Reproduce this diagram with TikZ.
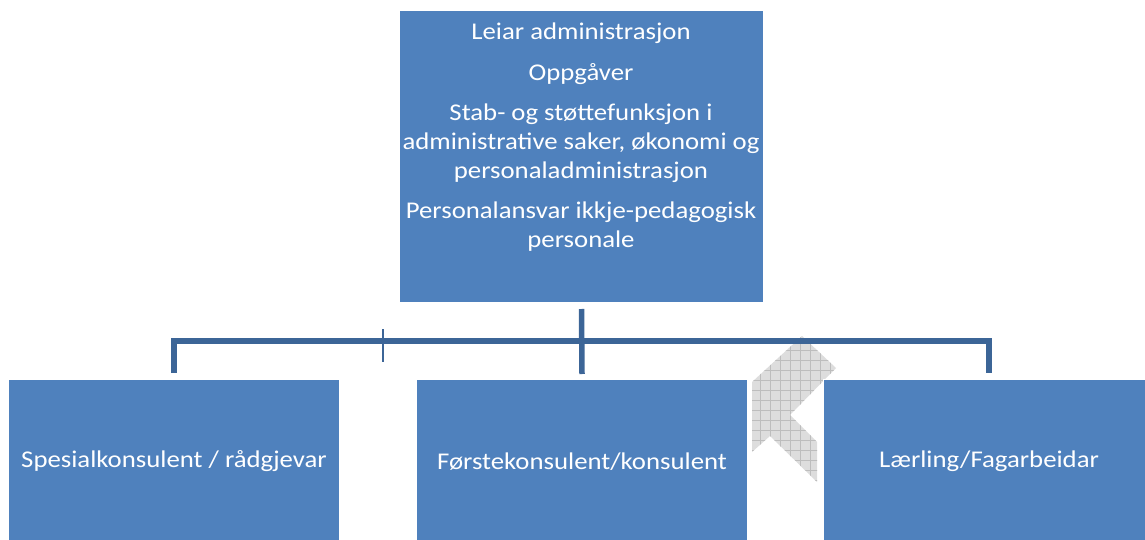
\documentclass[tikz,border=0pt]{standalone}
\usepackage{fontspec}
\setmainfont{Carlito}[FakeStretch=1.115]
\definecolor{boxblue}{HTML}{4F81BD}
\definecolor{connblue}{HTML}{3C6597}
\definecolor{hatchbg}{HTML}{DDDDDD}
\definecolor{hatchln}{HTML}{BDBDBD}
\tikzset{
  orgbox/.style={draw=white, line width=1pt, fill=boxblue, text=white, inner sep=0pt,
    font=\fontsize{24}{28.7}\selectfont, align=center},
  conn/.style={draw=connblue, line width=5.5pt},
  tickline/.style={draw=connblue, line width=1.3pt},
}
\begin{document}
\begin{tikzpicture}[x=1pt,y=1pt]
\useasboundingbox (0,0) rectangle (1145,-540);
\clip (0,0) rectangle (1145,-540);
% grey hatched shape
\begin{scope}
  \clip (802,-336) -- (836,-368) -- (790,-415) -- (817,-442) -- (817,-482)
        -- (770,-436) -- (752,-452) -- (752,-382) -- cycle;
  \fill[hatchbg] (740,-330) rectangle (850,-490);
  \draw[hatchln, line width=0.6pt, step=10pt] (740,-330) grid (850,-490);
\end{scope}
% boxes
\node[orgbox, minimum width=364pt, minimum height=292pt, anchor=north west] (T) at (399,-10) {};
\node[text=white, inner sep=0pt, align=center, anchor=north,
      font=\fontsize{24}{28.7}\selectfont] (Ttext) at (581,-22.5)
  {Leiar administrasjon\\[12pt]
   Oppgåver\\[12pt]
   Stab- og støttefunksjon i\\
   administrative saker, økonomi og\\
   personaladministrasjon\\[12pt]
   Personalansvar ikkje-pedagogisk\\
   personale};
\node[orgbox, minimum width=331pt, minimum height=164pt, anchor=north west] (L) at (8,-379) {Spesialkonsulent / rådgjevar};
\node[orgbox, minimum width=331pt, minimum height=164pt, anchor=north west] (M) at (416,-379) {Førstekonsulent/konsulent};
\node[orgbox, minimum width=331pt, minimum height=164pt, anchor=north west] (R) at (823,-379) {Lærling/Fagarbeidar};
% connectors
\coordinate (bus) at (581,-341);
\draw[conn] ([yshift=6pt]L.north) -- (L.north |- bus) -- (R.north |- bus) -- ([yshift=6pt]R.north);
\draw[conn] ([yshift=-6pt]T.south) -- ([yshift=5pt]M.north);
\coordinate (tickA) at (383,-329);
\coordinate (tickB) at (383,-362);
\draw[tickline] (tickA) -- (tickB);
\end{tikzpicture}
\end{document}
